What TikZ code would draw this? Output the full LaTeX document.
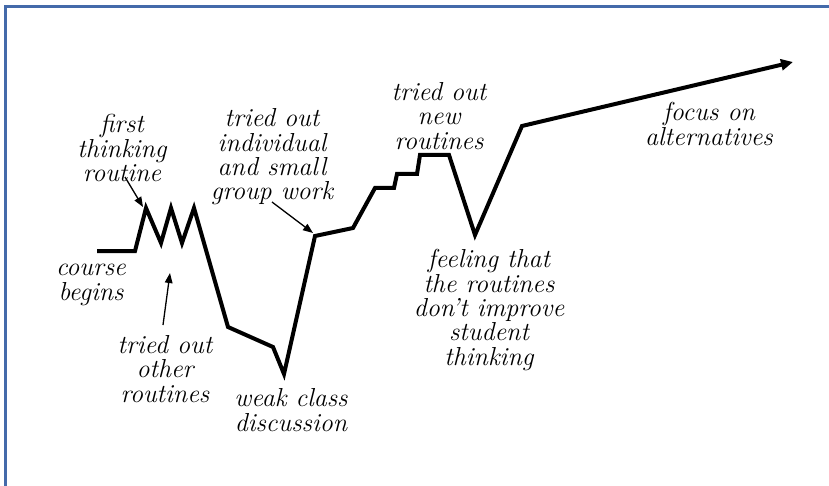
\documentclass[tikz,border=0pt]{standalone}
\usepackage{tikz}
\usetikzlibrary{arrows.meta}
\definecolor{frameblue}{RGB}{68,106,170}
\tikzset{
  note/.style={align=center,inner sep=0pt,font=\itshape\fontsize{13}{12.2}\selectfont},
  curve/.style={line width=2pt,-{Triangle[length=6pt,width=5.5pt]}},
  pointer/.style={line width=0.65pt,-{Triangle[length=5pt,width=3.8pt]}},
}

\begin{document}
\begin{tikzpicture}[x=0.5pt,y=-0.5pt]
  \useasboundingbox (0,0) rectangle (829,486);
  \draw[frameblue,line width=1.1pt] (5.5,490) -- (5.5,6.5) -- (835,6.5);

  \coordinate (peakA) at (146,208);
  \coordinate (valley) at (284,374);
  \coordinate (groupwork) at (315,236);
  \coordinate (dip) at (475,235);
  \coordinate (tip) at (793,62);
  \draw[curve] (97,251) -- (135,251) -- (peakA) -- (161,243) -- (171,208)
    -- (182,243) -- (194,208) -- (228,327) -- (273,347) -- (valley)
    -- (groupwork) -- (353,228) -- (375,188) -- (394,188) -- (397,174)
    -- (417,174) -- (420,155) -- (449,155) -- (dip) -- (522,126) -- (tip);

  \node[note] (first) at (122,148) {first\\thinking\\routine};
  \node[note] (indiv) at (272,157) {tried out\\individual\\and small\\group work};
  \node[note] (newr) at (439,116) {tried out\\new\\routines};
  \node[note] (focus) at (709,124) {focus on\\alternatives};
  \node[note] (course) at (91,285) {course\\begins};
  \node[note] (other) at (165,369) {tried out\\other\\routines};
  \node[note] (weak) at (291,410) {weak class\\discussion};
  \node[note] (feeling) at (489,310) {feeling that\\the routines\\don’t improve\\student\\thinking};

  \coordinate (firstfoot) at (125,177);
  \coordinate (otherfoot) at (163,325);
  \coordinate (indivfoot) at (272,202);
  \draw[pointer] (firstfoot) -- (143,207);
  \draw[pointer] (otherfoot) -- (170,273);
  \draw[pointer] (indivfoot) -- (313,233);
\end{tikzpicture}
\end{document}
